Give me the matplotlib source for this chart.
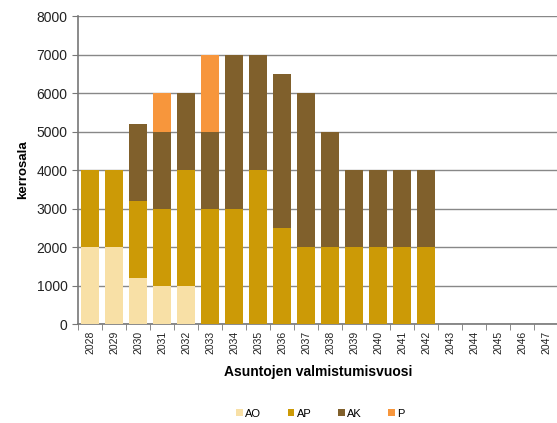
import numpy as np
import matplotlib.pyplot as plt
from matplotlib.ticker import FixedLocator

# Data
years = [str(y) for y in range(2028, 2048)]
ao = [2000, 2000, 1200, 1000, 1000, 0, 0, 0, 0, 0, 0, 0, 0, 0, 0, 0, 0, 0, 0, 0]
ap = [2000, 2000, 2000, 2000, 3000, 3000, 3000, 4000, 2500, 2000, 2000, 2000, 2000, 2000, 2000, 0, 0, 0, 0, 0]
ak = [0, 0, 2000, 2000, 2000, 2000, 4000, 3000, 4000, 4000, 3000, 2000, 2000, 2000, 2000, 0, 0, 0, 0, 0]
p = [0, 0, 0, 1000, 0, 2000, 0, 0, 0, 0, 0, 0, 0, 0, 0, 0, 0, 0, 0, 0]

series = [("AO", ao, "#F8E0A6"), ("AP", ap, "#CC9A06"),
          ("AK", ak, "#80602C"), ("P", p, "#F7963C")]

plt.rcParams['font.family'] = ['Liberation Sans', 'DejaVu Sans']

fig = plt.figure(figsize=(5.57, 4.23), dpi=100)
ax = fig.add_axes([0.140, 0.234, 0.862, 0.728])

x = np.arange(len(years))
bottom = np.zeros(len(years))
handles = []
for name, vals, col in series:
    vals = np.array(vals, dtype=float)
    h = ax.bar(x, vals, width=0.72, bottom=bottom, color=col, label=name, zorder=3)
    handles.append(h)
    bottom += vals

ax.set_ylim(0, 8000)
ax.set_xlim(-0.5, len(years) - 0.5)
ax.set_yticks(np.arange(0, 8001, 1000))
ax.yaxis.grid(True, color="#888888", linewidth=1.0, zorder=0)
ax.set_xticks(x)
ax.set_xticklabels(years, rotation=90, fontsize=7.5, color="#222222")
ax.xaxis.set_minor_locator(FixedLocator(np.arange(-0.5, len(years), 1)))
ax.tick_params(axis='x', which='major', length=0, pad=5)
ax.tick_params(axis='x', which='minor', length=4, color="#777777")
ax.tick_params(axis='y', labelsize=10, length=4, color="#777777", labelcolor="#222222")

for s in ["top", "right"]:
    ax.spines[s].set_visible(False)
for s in ["left", "bottom"]:
    ax.spines[s].set_color("#777777")
    ax.spines[s].set_linewidth(1.2)

ax.set_ylabel("kerrosala", fontsize=9.5, fontweight="bold", labelpad=5)
ax.set_xlabel("Asuntojen valmistumisvuosi", fontsize=10, fontweight="bold", labelpad=8)

fig.legend(handles=handles, labels=[s[0] for s in series], loc="center",
           bbox_to_anchor=(0.575, 0.022), ncol=4, frameon=False, fontsize=8,
           handlelength=0.6, handleheight=0.6, handletextpad=0.2, columnspacing=2.4)

fig.savefig("out.png", dpi=100)
